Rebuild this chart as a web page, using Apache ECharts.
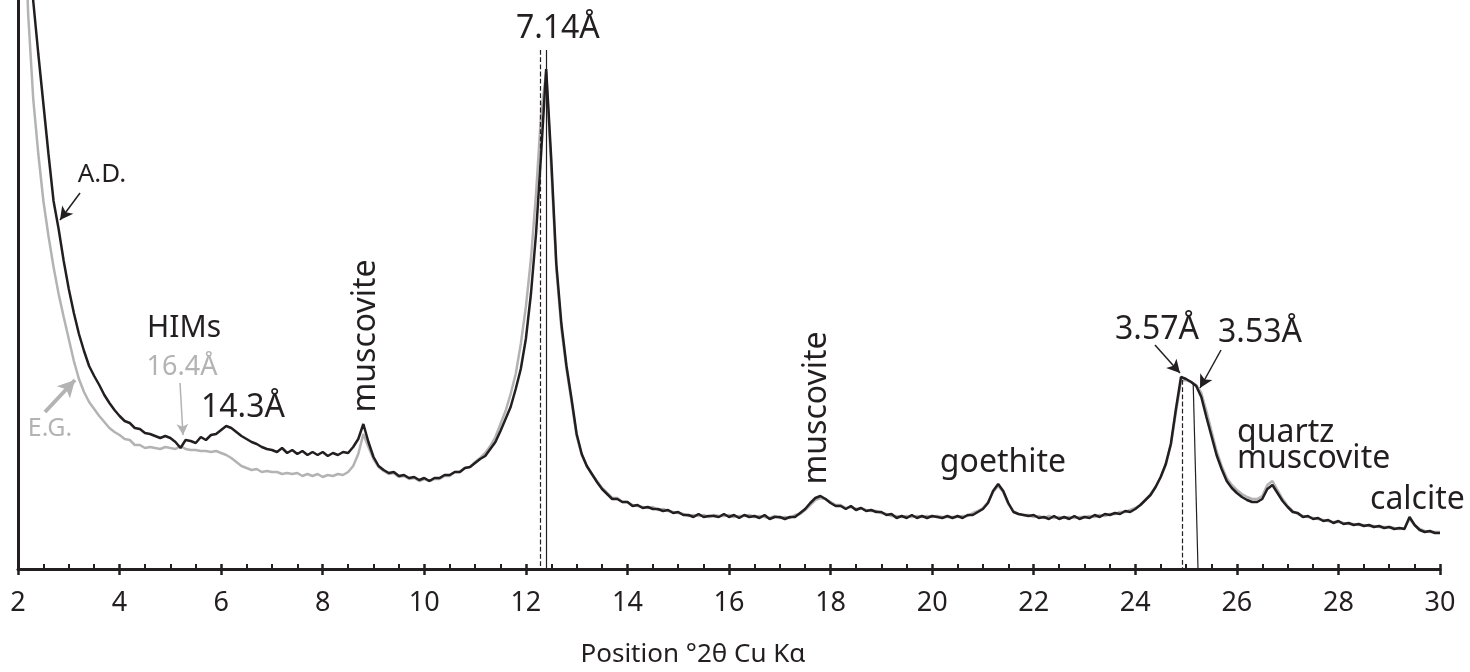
<!DOCTYPE html>
<html><head><meta charset="utf-8">
<script src="https://cdn.jsdelivr.net/npm/echarts@6/dist/echarts.min.js"></script>
<style>html,body{margin:0;padding:0;background:#fff}#c{width:1470px;height:672px}</style>
</head><body><div id="c"></div><script>
// Position (°2θ Cu Kα)
const theta = [
2.0,2.1,2.2,2.3,2.4,2.5,2.6,2.7,2.8,2.9,
3.0,3.1,3.2,3.3,3.4,3.5,3.6,3.7,3.8,3.9,
4.0,4.1,4.2,4.3,4.4,4.5,4.6,4.7,4.8,4.9,
5.0,5.1,5.2,5.3,5.4,5.5,5.6,5.7,5.8,5.9,
6.0,6.1,6.2,6.3,6.4,6.5,6.6,6.7,6.8,6.9,
7.0,7.1,7.2,7.3,7.4,7.5,7.6,7.7,7.8,7.9,
8.0,8.1,8.2,8.3,8.4,8.5,8.6,8.7,8.8,8.9,
9.0,9.1,9.2,9.3,9.4,9.5,9.6,9.7,9.8,9.9,
10.0,10.1,10.2,10.3,10.4,10.5,10.6,10.7,10.8,10.9,
11.0,11.1,11.2,11.3,11.4,11.5,11.6,11.7,11.8,11.9,
12.0,12.1,12.2,12.3,12.4,12.5,12.6,12.7,12.8,12.9,
13.0,13.1,13.2,13.3,13.4,13.5,13.6,13.7,13.8,13.9,
14.0,14.1,14.2,14.3,14.4,14.5,14.6,14.7,14.8,14.9,
15.0,15.1,15.2,15.3,15.4,15.5,15.6,15.7,15.8,15.9,
16.0,16.1,16.2,16.3,16.4,16.5,16.6,16.7,16.8,16.9,
17.0,17.1,17.2,17.3,17.4,17.5,17.6,17.7,17.8,17.9,
18.0,18.1,18.2,18.3,18.4,18.5,18.6,18.7,18.8,18.9,
19.0,19.1,19.2,19.3,19.4,19.5,19.6,19.7,19.8,19.9,
20.0,20.1,20.2,20.3,20.4,20.5,20.6,20.7,20.8,20.9,
21.0,21.1,21.2,21.3,21.4,21.5,21.6,21.7,21.8,21.9,
22.0,22.1,22.2,22.3,22.4,22.5,22.6,22.7,22.8,22.9,
23.0,23.1,23.2,23.3,23.4,23.5,23.6,23.7,23.8,23.9,
24.0,24.1,24.2,24.3,24.4,24.5,24.6,24.7,24.8,24.9,
25.0,25.1,25.2,25.3,25.4,25.5,25.6,25.7,25.8,25.9,
26.0,26.1,26.2,26.3,26.4,26.5,26.6,26.7,26.8,26.9,
27.0,27.1,27.2,27.3,27.4,27.5,27.6,27.7,27.8,27.9,
28.0,28.1,28.2,28.3,28.4,28.5,28.6,28.7,28.8,28.9,
29.0,29.1,29.2,29.3,29.4,29.5,29.6,29.7,29.8,29.9,
30.0];

// A.D. (air-dried) intensity, arbitrary units
const adCounts = [
1300,900,700,568,515,465,415,368,340,308,
280,256,235,218,203,193,184,174,166,159,
153,148,146,141,140,136,135,133,131,133,
131,127,121,129,128,126,132,129,134,135,
139,143,141,137,133,130,127,125,122,120,
119,117,121,116,119,115,118,114,117,114,
117,113,116,114,117,116,122,130,145,127,
112,103,99,96,97,93,94,91,92,89,
91,88,91,91,94,94,97,97,101,102,
106,110,113,120,127,138,150,162,180,200,
230,275,335,415,500,410,305,245,203,170,
135,115,103,95,87,80,75,70,70,67,
67,63,64,61,62,60,60,58,59,56,
57,54,54,52,55,52,53,53,52,55,
52,54,51,54,52,53,51,54,50,52,
52,50,52,52,56,60,66,71,73,70,
66,63,63,60,63,59,61,58,59,57,
57,54,55,51,53,51,54,51,53,51,
53,52,51,53,51,53,51,54,54,57,
60,66,78,85,78,66,57,55,54,53,
54,51,52,50,53,50,52,50,53,50,
52,51,54,52,55,54,56,55,58,57,
60,64,69,74,82,92,105,125,160,192,
190,187,183,172,152,133,114,100,88,81,
76,72,69,67,67,70,80,84,76,68,
62,57,56,52,53,50,51,48,49,46,
48,45,46,44,45,43,44,42,43,41,
42,40,41,40,52,44,39,37,38,36,
36];

// E.G. (ethylene glycol) intensity, arbitrary units
const egCounts = [
1000,700,555,470,415,368,333,302,275,252,
230,208,190,177,167,160,153,147,141,137,
134,130,129,124,124,121,122,121,120,122,
121,120,123,120,119,119,118,118,117,118,
116,114,111,107,103,101,99,100,97,98,
97,97,95,96,95,96,93,95,93,95,
92,94,93,95,94,97,103,115,135,122,
110,102,98,95,96,92,93,90,91,88,
90,88,90,90,93,93,97,97,101,102,
107,111,116,123,132,145,158,175,195,225,
262,310,375,455,497,400,300,240,200,167,
133,114,103,95,88,81,76,71,71,67,
67,64,63,62,61,62,59,60,58,57,
56,55,53,54,53,54,52,54,53,53,
54,52,53,53,54,52,53,52,51,53,
51,52,51,54,55,59,64,69,71,70,
67,64,64,61,62,60,61,59,58,58,
56,55,53,53,52,53,52,53,52,53,
52,53,52,52,52,52,53,53,56,58,
61,67,77,83,77,65,58,55,54,54,
52,53,51,53,51,52,51,52,51,52,
52,53,52,54,53,55,55,57,57,59,
61,64,69,75,82,92,104,124,157,188,
189,187,184,176,158,138,118,103,91,84,
79,75,72,70,70,73,84,88,79,70,
63,58,55,53,52,51,50,49,48,47,
47,46,45,45,44,44,43,43,42,42,
42,41,40,41,50,44,40,38,37,37,
37];

const xTitle = 'Position °2θ Cu Kα';
const seriesNames = ['E.G.', 'A.D.'];

// d-spacing reference lines (data coordinates)
const refLines = [
  {from:[12.28,519], to:[12.28,0], type:'dashed'},
  {from:[12.40,519], to:[12.40,0], type:'solid'},
  {from:[24.92,189], to:[24.92,0], type:'dashed'},
  {from:[25.14,186], to:[25.235,0], type:'solid'}
];

// annotation texts (data coordinates)
const labels = [
  {text:'7.14Å', at:[12.63,540], size:32, color:'#231f20', align:'center'},
  {text:'A.D.', at:[3.654,394], size:26, color:'#231f20', align:'center'},
  {text:'E.G.', at:[2.63,140], size:25, color:'#b3b3b3', align:'center'},
  {text:'HIMs', at:[5.269,241], size:30, color:'#231f20', align:'center'},
  {text:'16.4Å', at:[5.229,202], size:27, color:'#b3b3b3', align:'center'},
  {text:'14.3Å', at:[6.43,161], size:32, color:'#231f20', align:'center'},
  {text:'muscovite', at:[8.852,233], size:32, color:'#231f20', align:'center', rotate:true},
  {text:'muscovite', at:[17.733,161], size:32, color:'#231f20', align:'center', rotate:true},
  {text:'goethite', at:[21.395,106], size:32, color:'#231f20', align:'center'},
  {text:'3.57Å', at:[24.427,239], size:32, color:'#231f20', align:'center'},
  {text:'3.53Å', at:[26.455,236], size:32, color:'#231f20', align:'center'},
  {text:'quartz', at:[26.003,136], size:32, color:'#231f20', align:'left'},
  {text:'muscovite', at:[26.003,110], size:32, color:'#231f20', align:'left'},
  {text:'calcite', at:[28.622,69], size:32, color:'#231f20', align:'left'}
];

// arrows (data coordinates)
const arrows = [
  {from:[3.221,376], to:[2.827,349], color:'#231f20', width:1.5, head:13},
  {from:[2.532,157], to:[3.122,189], color:'#b3b3b3', width:4, head:17},
  {from:[5.19,186], to:[5.249,134], color:'#b3b3b3', width:1.5, head:11},
  {from:[24.388,224], to:[24.88,196], color:'#231f20', width:1.5, head:13},
  {from:[25.688,219], to:[25.274,181], color:'#231f20', width:1.5, head:13}
];

const BLACK = '#231f20', GREY = '#b3b3b3', FONT = 'Noto Sans';
const pair = arr => theta.map((t,i) => [t, arr[i]]);

const markData = [];
refLines.forEach(r => markData.push([
  {coord:r.from, symbol:'none', lineStyle:{color:BLACK, width:1.2, type:r.type}},
  {coord:r.to, symbol:'none'}
]));
arrows.forEach(a => markData.push([
  {coord:a.from, symbol:'none', lineStyle:{color:a.color, width:a.width, type:'solid'}},
  {coord:a.to, symbol:'arrow', symbolSize:[a.head*0.8, a.head], itemStyle:{color:a.color}}
]));

const chart = echarts.init(document.getElementById('c'), null, {renderer:'canvas'});
const axisCommon = { type:'value', min:2, max:30, interval:2 };
chart.setOption({
  animation:false,
  grid:{left:18, right:30, top:0, bottom:103, containLabel:false},
  xAxis:[
    Object.assign({}, axisCommon, {
      position:'bottom',
      axisLine:{show:true, onZero:false, lineStyle:{color:BLACK, width:3}},
      axisTick:{show:true, inside:false, length:6, lineStyle:{color:BLACK, width:2.5}},
      minorTick:{show:false},
      splitLine:{show:false},
      axisLabel:{show:true, margin:21, color:BLACK, fontFamily:FONT, fontSize:27}
    }),
    Object.assign({}, axisCommon, {
      position:'bottom',
      axisLine:{show:false, onZero:false},
      axisTick:{show:true, inside:true, length:5, lineStyle:{color:BLACK, width:2.5}},
      minorTick:{show:true, splitNumber:4, length:5, lineStyle:{color:BLACK, width:2}},
      splitLine:{show:false},
      axisLabel:{show:false}
    })
  ],
  yAxis:{
    type:'value', min:0, max:569,
    axisLine:{show:true, lineStyle:{color:BLACK, width:3}},
    axisTick:{show:false}, axisLabel:{show:false}, splitLine:{show:false}
  },
  series:[
    {name:seriesNames[0], type:'line', data:pair(egCounts), showSymbol:false, symbol:'none',
     clip:true, lineStyle:{color:GREY, width:2.5}, z:2},
    {name:seriesNames[1], type:'line', data:pair(adCounts), showSymbol:false, symbol:'none',
     clip:true, lineStyle:{color:BLACK, width:2.5}, z:3,
     markLine:{silent:true, animation:false, label:{show:false}, data:markData}}
  ]
});

const gfx = labels.map(l => {
  const p = chart.convertToPixel({gridIndex:0}, l.at);
  return {
    type:'text', x:p[0], y:p[1], rotation: l.rotate ? Math.PI/2 : 0,
    style:{text:l.text, fill:l.color, font:l.size + 'px "' + FONT + '"',
           textAlign:l.align, textVerticalAlign:'middle'},
    silent:true, z:10
  };
});
gfx.push({
  type:'text', x:693, y:655,
  style:{text:xTitle, fill:BLACK, font:'26px "' + FONT + '"', textAlign:'center', textVerticalAlign:'middle'},
  silent:true, z:10
});
chart.setOption({graphic:{elements:gfx}});
</script></body></html>
